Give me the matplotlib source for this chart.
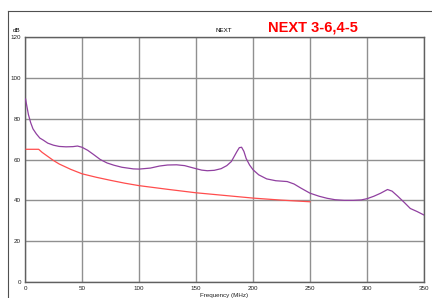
import matplotlib.pyplot as plt
from matplotlib.lines import Line2D

plt.rcParams['font.family'] = ['Liberation Sans', 'DejaVu Sans']

# measured NEXT pair 3-6,4-5 (purple)
freq_meas = [0.5, 1, 2, 3, 5, 7, 10, 13, 16, 20, 25, 30, 36, 42, 46, 50, 55, 60, 66, 72,
             78, 85, 95, 100, 110, 118, 125, 133, 140, 148, 155, 160, 166, 172, 177, 181,
             184, 186, 188, 190, 192, 194, 197, 200, 205, 212, 220, 230, 236, 242, 250,
             258, 265, 272, 280, 288, 295, 300, 306, 312, 318, 322, 327, 333, 338, 344, 350]
db_meas = [89.6, 88, 85, 82, 78, 75, 72.5, 70.5, 69.5, 68, 67, 66.4, 66.2, 66.3, 66.6, 66,
           64.5, 62.5, 60, 58.3, 57.2, 56.2, 55.4, 55.3, 55.8, 56.8, 57.3, 57.4, 57, 55.8,
           54.8, 54.5, 54.7, 55.5, 57, 59, 62, 64, 65.8, 66, 64, 60.5, 57.3, 55, 52.5, 50.5,
           49.6, 49.2, 48, 46, 43.5, 42, 41, 40.3, 40, 40, 40.2, 40.8, 42, 43.5, 45.3, 44.5,
           42, 38.8, 36, 34.5, 32.8]

# limit line (red)
freq_lim = [1, 12, 15, 20, 25, 30, 40, 50, 62.5, 75, 87.5, 100, 125, 150, 175, 200, 225, 250]
db_lim = [65, 65, 63.5, 61.5, 59.5, 57.8, 55.2, 53, 51.3, 49.8, 48.4, 47.2, 45.4, 43.7,
          42.4, 41.1, 40.1, 39.3]

x_ticks = [0, 50, 100, 150, 200, 250, 300, 350]
y_ticks = [0, 20, 40, 60, 80, 100, 120]

fig = plt.figure(figsize=(4.32, 2.98), dpi=100)
ax = fig.add_axes([25/432, 1 - 282/298, 399/432, 245/298])

ax.plot(freq_lim, db_lim, color='#ff4d4d', lw=0.9, zorder=3)
ax.plot(freq_meas, db_meas, color='#9040a0', lw=0.9, zorder=4)

ax.set_xlim(0, 350)
ax.set_ylim(0, 120)
ax.set_xticks(x_ticks)
ax.set_yticks(y_ticks)
ax.grid(True, color='#909090', lw=1)
ax.set_axisbelow(True)
ax.tick_params(length=0, labelsize=4.5, pad=3, labelcolor='#202020')
for s in ax.spines.values():
    s.set_color('#606060')
    s.set_linewidth(1)

ax.set_xlabel('Frequency (MHz)', fontsize=4.5, labelpad=1, color='#202020')
fig.text(17/432, 1 - 31/298, 'dB', fontsize=4.5, ha='center', va='center')
fig.text(224/432, 1 - 31/298, 'NEXT', fontsize=4.5, ha='center', va='center')
fig.text(313/432, 1 - 27/298, 'NEXT 3-6,4-5', fontsize=10.5, fontweight='bold',
         color='#ff0000', ha='center', va='center')

# outer frame
fig.add_artist(Line2D([8/432, 1], [1 - 11/298, 1 - 11/298], color='#505050', lw=0.8))
fig.add_artist(Line2D([8/432, 8/432], [0, 1 - 11/298], color='#505050', lw=0.8))

fig.savefig('out.png', dpi=100)
